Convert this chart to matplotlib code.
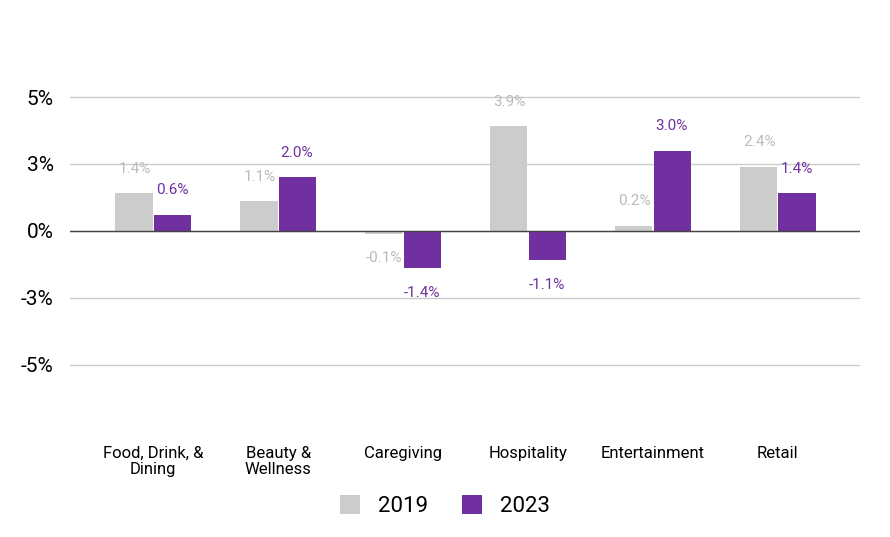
import matplotlib
matplotlib.use("Agg")
import matplotlib.pyplot as plt
import numpy as np

categories = ["Food, Drink, &\nDining", "Beauty &\nWellness", "Caregiving", "Hospitality", "Entertainment", "Retail"]
v2019 = [1.4, 1.1, -0.1, 3.9, 0.2, 2.4]
v2023 = [0.6, 2.0, -1.4, -1.1, 3.0, 1.4]
yticks = [-5, -2.5, 0, 2.5, 5]
ytick_labels = ["-5%", "-3%", "0%", "3%", "5%"]

plt.rcParams['font.family'] = ['Roboto', 'DejaVu Sans']
fig = plt.figure(figsize=(8.9, 5.37), dpi=100)
ax = fig.add_axes([0.079, 0.196, 0.887, 0.748])
gray, purple = "#cccccc", "#7030a0"
x = np.arange(len(categories))
w = 0.3
ax.bar(x - w/2 - 0.005, v2019, w, color=gray, label="2019", zorder=3)
ax.bar(x + w/2 + 0.005, v2023, w, color=purple, label="2023", zorder=3)
for xi, v in zip(x, v2019):
    ax.text(xi - w/2, v + (0.65 if v >= 0 else -0.65), f"{v:.1f}%", ha="center",
            va="bottom" if v >= 0 else "top", color="#bbbbbb", fontsize=11)
for xi, v in zip(x, v2023):
    ax.text(xi + w/2, v + (0.65 if v >= 0 else -0.65), f"{v:.1f}%", ha="center",
            va="bottom" if v >= 0 else "top", color=purple, fontsize=11)
ax.set_ylim(-7.5, 7.5)
ax.set_xlim(-0.664, 5.656)
ax.set_yticks(yticks)
ax.set_yticklabels(ytick_labels, fontsize=15)
ax.set_xticks(x)
ax.set_xticklabels(categories, fontsize=12, linespacing=1.1)
ax.tick_params(length=0)
ax.tick_params(axis='x', pad=10)
ax.tick_params(axis='y', pad=12)
ax.yaxis.grid(True, color="#cccccc", linewidth=1, zorder=0)
ax.axhline(0, color="#444444", linewidth=1, zorder=4)
for s in ax.spines.values():
    s.set_visible(False)
fig.legend(loc="lower center", bbox_to_anchor=(0.5, 0.0), ncol=2, frameon=False,
           fontsize=16, handlelength=0.9, handleheight=0.9, columnspacing=1.5)
fig.savefig("out.png", dpi=100)
